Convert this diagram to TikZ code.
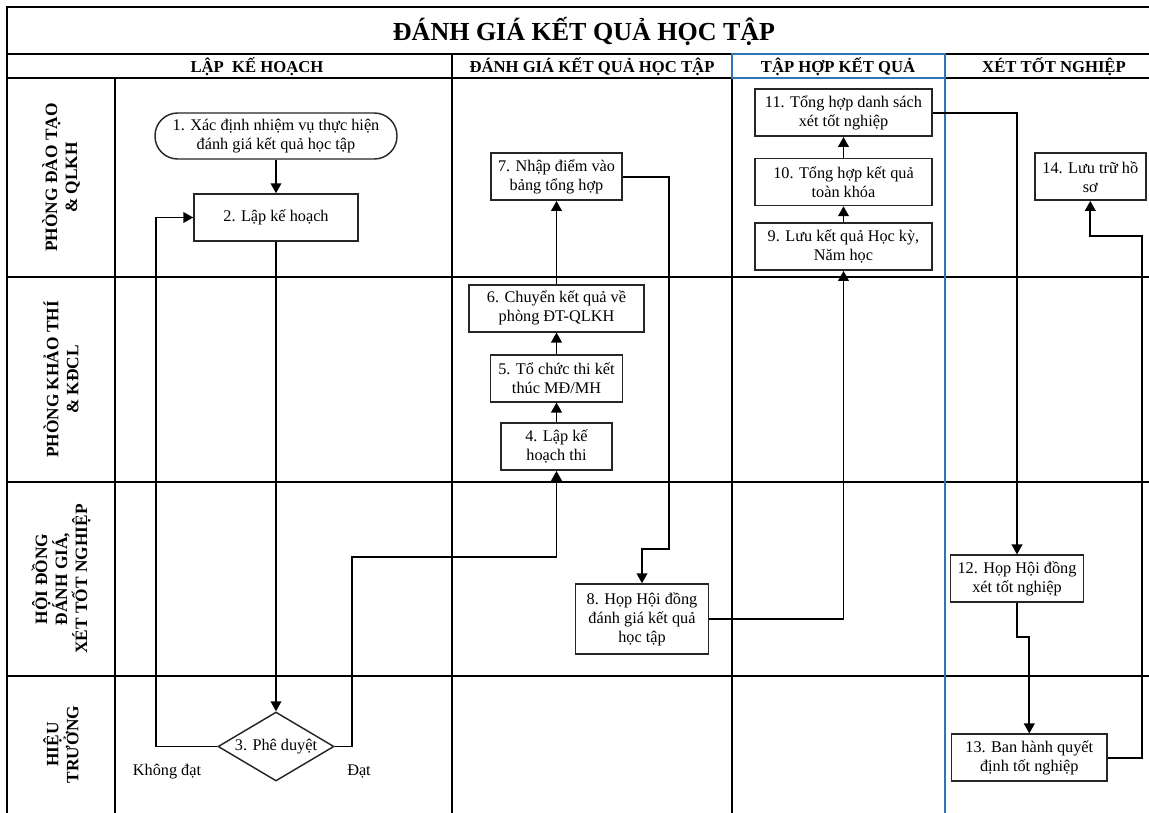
\documentclass[tikz,border=0pt]{standalone}
\usepackage{fontspec}
\setmainfont{Liberation Serif}
\usetikzlibrary{positioning, shapes.geometric, arrows.meta}

\definecolor{laneblue}{RGB}{46,117,182}

\begin{document}
\begin{tikzpicture}[
      x=0.75pt, y=-0.75pt,
      box/.style={rectangle, draw=black!85, line width=1.1pt, fill=white, align=center, inner sep=1pt, minimum height=35.25pt, font=\fontsize{12.2}{14.25}\selectfont},
      decision/.style={diamond, draw=black!85, line width=1.1pt, fill=white, aspect=1.68, inner sep=0pt, minimum width=87pt, minimum height=51.75pt, font=\fontsize{12.2}{14.25}\selectfont},
      lanelabel/.style={rotate=90, align=center, font=\fontsize{13}{15}\selectfont\bfseries},
      phase/.style={font=\fontsize{12.5}{14}\selectfont\bfseries},
      grid/.style={line width=0.9pt},
      arrow/.style={-{Triangle[length=7.5pt,width=8pt]}, line width=1.3pt}
    ]
      \useasboundingbox (0,0) rectangle (1149,813);

      % Grid
      \draw[grid] (1149,7) -- (7,7) -- (7,813);
      \draw[grid] (7,54) -- (1149,54);
      \draw[grid] (7,78) -- (1149,78);
      \foreach \y in {277,482,676}
        \draw[grid] (7,\y) -- (1149,\y);
      \draw[grid] (115,78) -- (115,813);
      \draw[grid] (452,54) -- (452,813);
      \draw[grid] (732,78) -- (732,813);
      \draw[grid, laneblue] (732,54) rectangle (945,78);
      \draw[grid, laneblue] (945,78) -- (945,813);

      % Title and phases
      \node[font=\fontsize{19.5}{23}\selectfont\bfseries] (title) at (584,31) {ĐÁNH GIÁ KẾT QUẢ HỌC TẬP};
      \node[phase] (ph1) at (257,67) {LẬP\ \ KẾ HOẠCH};
      \node[phase] (ph2) at (592,67) {ĐÁNH GIÁ KẾT QUẢ HỌC TẬP};
      \node[phase] (ph3) at (838,67) {TẬP HỢP KẾT QUẢ};
      \node[phase] (ph4) at (1054,67) {XÉT TỐT NGHIỆP};

      % Lanes
      \node[lanelabel] (lane1) at (61,177.5) {PHÒNG ĐÀO TẠO\\\& QLKH};
      \node[lanelabel] (lane2) at (61,379.5) {PHÒNG KHẢO THÍ\\\& KĐCL};
      \node[lanelabel] (lane3) at (61,579) {HỘI ĐỒNG\\ĐÁNH GIÁ,\\XÉT TỐT NGHIỆP};
      \node[lanelabel] (lane4) at (61,744.5) {HIỆU\\TRƯỞNG};

      % Boxes
      \node[box, rounded corners=17pt, minimum width=181.5pt, minimum height=34.5pt] (s1) at (276,136) {1. Xác định nhiệm vụ thực hiện\\đánh giá kết quả học tập};
      \node[box, minimum width=123pt] (s2) at (276,217.5) {2. Lập kế hoạch};
      \node[decision] (s3) at (276,746.5) {3. Phê duyệt};
      \node[box, minimum width=83.25pt] (s4) at (556.5,446.7) {4. Lập kế\\hoạch thi};
      \node[box, minimum width=99pt] (s5) at (556.5,378.3) {5. Tổ chức thi kết\\thúc MĐ/MH};
      \node[box, minimum width=131.25pt] (s6) at (556.5,308.3) {6. Chuyển kết quả về\\phòng ĐT-QLKH};
      \node[box, minimum width=98.25pt] (s7) at (556.5,176.7) {7. Nhập điểm vào\\bảng tổng hợp};
      \node[box, minimum width=99.75pt, minimum height=52.5pt] (s8) at (642,619) {8. Họp Hội đồng\\đánh giá kết quả\\học tập};
      \node[box, minimum width=132.75pt] (s9) at (843.5,246.7) {9. Lưu kết quả Học kỳ,\\Năm học};
      \node[box, minimum width=132.75pt] (s10) at (843.5,182) {10. Tổng hợp kết quả\\toàn khóa};
      \node[box, minimum width=132.75pt] (s11) at (843.5,112.7) {11. Tổng hợp danh sách\\xét tốt nghiệp};
      \node[box, minimum width=99.75pt] (s12) at (1017,578.7) {12. Họp Hội đồng\\xét tốt nghiệp};
      \node[box, minimum width=116.6pt] (s13) at (1029.3,757.7) {13. Ban hành quyết\\định tốt nghiệp};
      \node[box, minimum width=83.25pt] (s14) at (1090.3,176.7) {14. Lưu trữ hồ\\sơ};

      % Decision labels
      \node[font=\fontsize{12.2}{14.25}\selectfont] (fail) at (167,772) {Không đạt};
      \node[font=\fontsize{12.2}{14.25}\selectfont] (pass) at (359,772) {Đạt};

      % Bends
      \coordinate (kd) at (156,217.5);
      \coordinate (ok) at (352,557);
      \coordinate (c78) at (669,549);
      \coordinate (c1213) at (1029.3,637);
      \coordinate (c1314) at (1142,235.7);

      % Arrows
      \draw[arrow] (s1) -- (s2);
      \draw[arrow] (s2) -- (s3.north);
      \draw[arrow] (s3.west) -| (kd) -- (s2.west);
      \draw[arrow] (s3.east) -| (ok) -| (s4.south);
      \draw[arrow] (s4) -- (s5);
      \draw[arrow] (s5) -- (s6);
      \draw[arrow] (s6) -- (s7);
      \draw[arrow] (s7.east) -| (c78) -| (s8.north);
      \draw[arrow] (s8.east) -| (s9.south);
      \draw[arrow] (s9) -- (s10);
      \draw[arrow] (s10) -- (s11);
      \draw[arrow] (s11.east) -| (s12.north);
      \draw[arrow] (s12.south) |- (c1213) -- (s13.north);
      \draw[arrow] (s13.east) -| (c1314) -| (s14.south);
    \end{tikzpicture}
\end{document}
